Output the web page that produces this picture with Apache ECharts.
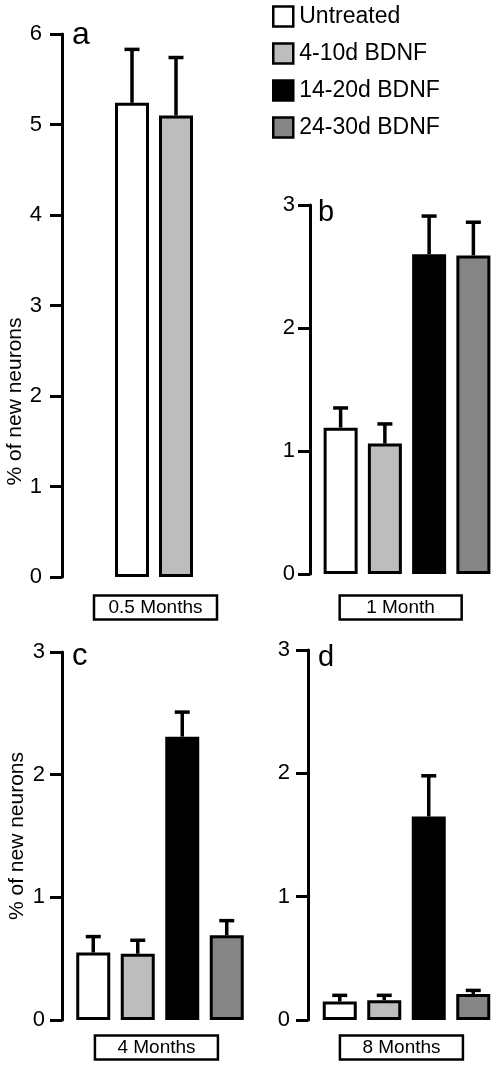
<!DOCTYPE html>
<html><head><meta charset="utf-8">
<script src="https://cdn.jsdelivr.net/npm/echarts@6/dist/echarts.min.js"></script>
<style>html,body{margin:0;padding:0;background:#fff}#c{width:500px;height:1068px}</style>
</head><body><div id="c"></div>
<script>
const groups = ['Untreated', '4-10d BDNF', '14-20d BDNF', '24-30d BDNF'];
const groupColors = ['#ffffff', '#bdbdbd', '#000000', '#858585'];
const panelLetters = ['a', 'b', 'c', 'd'];
const panelTimes = ['0.5 Months', '1 Month', '4 Months', '8 Months'];
const yMax = [6, 3, 3, 3];
const meanA = [5.24, 5.10];
const errA = [0.59, 0.64];
const meanB = [1.19, 1.06, 2.60, 2.59];
const errB = [0.16, 0.16, 0.31, 0.27];
const meanC = [0.55, 0.54, 2.31, 0.69];
const errC = [0.13, 0.11, 0.20, 0.12];
const meanD = [0.15, 0.16, 1.65, 0.21];
const errD = [0.05, 0.04, 0.33, 0.03];
const means = [meanA, meanB, meanC, meanD];
const errs = [errA, errB, errC, errD];

const FONT = 'Liberation Sans';
const grids = [
  {left: 110, top: 34, width: 88, height: 543},
  {left: 318.5, top: 205, width: 177, height: 369},
  {left: 71, top: 652, width: 178, height: 368},
  {left: 317.5, top: 650, width: 178, height: 370}
];
const yOffsets = [48, 8.5, 9, 9.5];
const labelMargins = [20, 15, 17, 18];
const titlePos = [[72, 19, 32], [318, 198, 29], [72, 641, 31], [318, 643, 29]];
const boxPos = [[94, 595], [339, 595], [95, 1035], [340, 1035]];
const BOX_W = 123;

const mctx = document.createElement('canvas').getContext('2d');
mctx.font = '19px "' + FONT + '"';

const chart = echarts.init(document.getElementById('c'));
const xAxes = [], yAxes = [], series = [], titles = [];
means.forEach((m, p) => {
  const cats = groups.slice(0, m.length);
  xAxes.push({
    type: 'category', gridIndex: p, data: cats,
    axisLine: {show: false}, axisTick: {show: false}, axisLabel: {show: false}
  });
  const ya = {
    type: 'value', gridIndex: p, min: 0, max: yMax[p], interval: 1, offset: yOffsets[p],
    splitLine: {show: false},
    axisLine: {show: true, lineStyle: {color: '#000', width: 3}},
    axisTick: {show: true, length: 12, lineStyle: {color: '#000', width: 3}},
    axisLabel: {fontFamily: FONT, fontSize: 22, color: '#000', margin: labelMargins[p]}
  };
  if (p === 0 || p === 2) {
    ya.name = '% of new neurons';
    ya.nameLocation = 'middle';
    ya.nameGap = 34;
    ya.nameTextStyle = {fontFamily: FONT, fontSize: 21, color: '#000',
      padding: p === 0 ? [0, 192, 0, 0] : 0};
  }
  yAxes.push(ya);
  m.forEach((v, g) => {
    const d = cats.map((c, i) => i === g ? v : null);
    series.push({
      type: 'bar', name: groups[g], xAxisIndex: p, yAxisIndex: p, data: d,
      barWidth: 34, barGap: '-100%',
      itemStyle: {color: groupColors[g], borderColor: '#000', borderWidth: 3},
      emphasis: {disabled: true}, silent: true
    });
  });
  series.push({
    type: 'custom', xAxisIndex: p, yAxisIndex: p, z: 5, silent: true,
    data: m.map((v, i) => [i, v, errs[p][i]]),
    renderItem: (params, api) => {
      const i = api.value(0), mv = api.value(1), e = api.value(2);
      const p0 = api.coord([i, mv]);
      const p1 = api.coord([i, mv + e]);
      return {type: 'group', children: [
        {type: 'line', shape: {x1: p0[0], y1: p0[1], x2: p1[0], y2: p1[1]}, style: {stroke: '#000', lineWidth: 3.5}},
        {type: 'line', shape: {x1: p1[0] - 7.5, y1: p1[1], x2: p1[0] + 7.5, y2: p1[1]}, style: {stroke: '#000', lineWidth: 3.5}}
      ]};
    }
  });
  titles.push({text: panelLetters[p], left: titlePos[p][0], top: titlePos[p][1], padding: 0,
    textStyle: {fontFamily: FONT, fontSize: titlePos[p][2], fontWeight: 'normal', color: '#000'}});
  const tw = mctx.measureText(panelTimes[p]).width;
  const side = Math.max(2, (BOX_W - tw) / 2);
  titles.push({text: panelTimes[p], left: boxPos[p][0], top: boxPos[p][1],
    padding: [3, side, 2, side], borderColor: '#000', borderWidth: 2.5, backgroundColor: '#fff',
    textStyle: {fontFamily: FONT, fontSize: 19, fontWeight: 'normal', color: '#000', lineHeight: 20}});
});

chart.setOption({
  animation: false,
  backgroundColor: '#fff',
  title: titles,
  legend: {
    data: groups, orient: 'vertical', left: 272, top: 5, padding: 0,
    itemWidth: 20, itemHeight: 20, itemGap: 14, icon: 'rect', selectedMode: false,
    itemStyle: {borderColor: '#000', borderWidth: 2.5},
    textStyle: {fontFamily: FONT, fontSize: 23, color: '#000', padding: [0, 0, 0, 1]}
  },
  grid: grids,
  xAxis: xAxes,
  yAxis: yAxes,
  series: series
});
</script></body></html>
